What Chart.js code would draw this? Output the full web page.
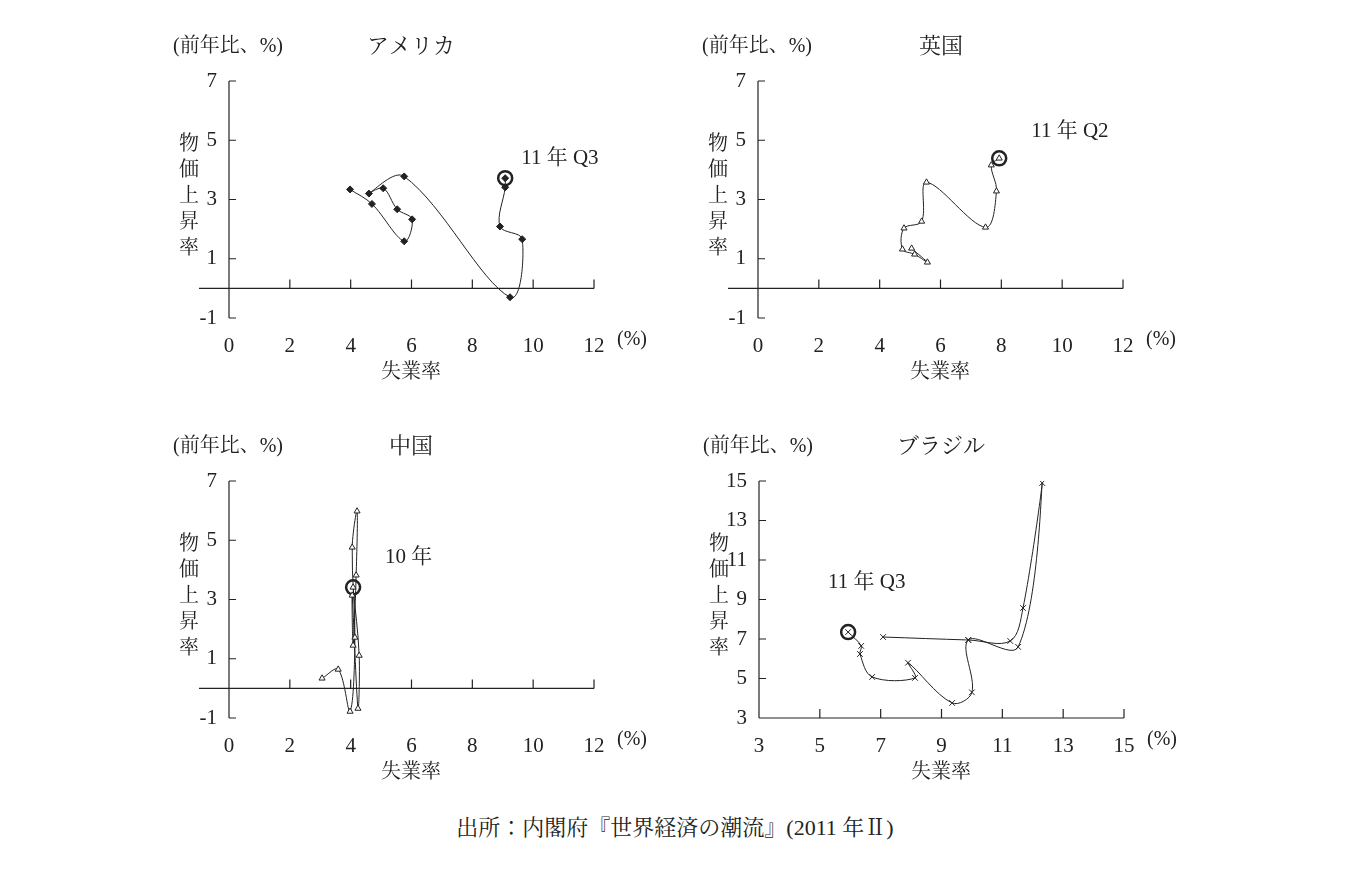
<!DOCTYPE html>
<html><head><meta charset="utf-8">
<script src="https://cdn.jsdelivr.net/npm/chart.js@4"></script>
<style>
body{margin:0;background:#fff;width:1350px;height:870px;position:relative;overflow:hidden}
.box{position:absolute;width:520px;height:370px}
#src{position:absolute;left:0;width:1350px;top:810px;text-align:center;font:22px "Liberation Serif","Noto Serif CJK JP","Noto Sans CJK JP";color:#222}
</style></head><body>
<div class="box" style="left:160px;top:30px"><canvas id="usa"></canvas></div>
<div class="box" style="left:689px;top:30px"><canvas id="uk"></canvas></div>
<div class="box" style="left:160px;top:430px"><canvas id="china"></canvas></div>
<div class="box" style="left:690px;top:430px"><canvas id="brazil"></canvas></div>
<div id="src">出所：内閣府『世界経済の潮流』(2011 年Ⅱ)</div>
<script>
// unemployment (x) and inflation (y), quarterly path
const usaX = [3.98, 4.7, 5.76, 6.02, 5.53, 5.07, 4.6, 5.76, 9.24, 9.64, 8.91, 9.08, 9.08];
const usaY = [3.34, 2.85, 1.59, 2.33, 2.67, 3.38, 3.2, 3.78, -0.3, 1.66, 2.09, 3.41, 3.72];
const ukX = [5.05, 5.57, 5.15, 4.75, 4.8, 5.38, 5.54, 7.48, 7.84, 7.67, 7.93];
const ukY = [1.35, 0.88, 1.15, 1.32, 2.03, 2.26, 3.58, 2.06, 3.28, 4.16, 4.39];
const chinaX = [3.06, 3.59, 3.98, 4.14, 4.05, 4.21, 4.18, 4.08, 4.05, 4.24, 4.28, 4.08];
const chinaY = [0.34, 0.64, -0.78, 1.72, 4.76, 5.98, 3.82, 1.45, 3.14, -0.68, 1.11, 3.41];
const brazilX = [7.08, 9.88, 11.26, 11.68, 12.31, 11.52, 9.88, 10.0, 9.35, 7.9, 8.13, 6.72, 6.32, 6.36, 5.93];
const brazilY = [7.1, 6.95, 6.9, 8.57, 14.9, 6.6, 6.95, 4.3, 3.76, 5.8, 5.03, 5.08, 6.24, 6.65, 7.35];
const stdTicks = [-1, 1, 3, 5, 7];
const stdXTicks = [0, 2, 4, 6, 8, 10, 12];
const brTicks = [3, 5, 7, 9, 11, 13, 15];

const FONT = '"Liberation Serif","Noto Serif CJK JP","Noto Sans CJK JP"';

function pts(xs, ys) { return xs.map((x, i) => ({ x, y: ys[i] })); }

function arrow(ctx, x1, y1, x2, y2) {
  const a = Math.atan2(y2 - y1, x2 - x1);
  ctx.beginPath(); ctx.moveTo(x1, y1); ctx.lineTo(x2 - 8 * Math.cos(a), y2 - 8 * Math.sin(a));
  ctx.lineWidth = 3; ctx.stroke();
  ctx.beginPath(); ctx.moveTo(x2, y2);
  ctx.lineTo(x2 - 13 * Math.cos(a - 0.4), y2 - 13 * Math.sin(a - 0.4));
  ctx.lineTo(x2 - 13 * Math.cos(a + 0.4), y2 - 13 * Math.sin(a + 0.4));
  ctx.closePath(); ctx.fill();
}

function makePanel(id, o) {
  const decor = {
    id: "decor",
    afterDraw(chart) {
      const { ctx, chartArea: ca, scales: { x, y } } = chart;
      ctx.save();
      ctx.strokeStyle = "#222"; ctx.fillStyle = "#222"; ctx.lineWidth = 1.2;
      const baseY = y.getPixelForValue(o.base);
      ctx.beginPath();
      ctx.moveTo(ca.left, ca.top); ctx.lineTo(ca.left, ca.bottom);
      ctx.moveTo(ca.left - (o.base === 0 ? 30 : 0), baseY); ctx.lineTo(ca.right, baseY);
      o.yTicks.forEach(v => { const p = y.getPixelForValue(v); ctx.moveTo(ca.left, p); ctx.lineTo(ca.left + 7, p); });
      o.xTicks.forEach(v => { const p = x.getPixelForValue(v); ctx.moveTo(p, baseY); ctx.lineTo(p, baseY - 9); });
      ctx.stroke();
      ctx.font = "20px " + FONT; ctx.textBaseline = "middle"; ctx.textAlign = "left";
      ctx.fillText("(前年比、%)", ca.left - 56, 17);
      ctx.font = "22px " + FONT; ctx.textAlign = "center";
      ctx.fillText(o.title, ca.left + o.titleDx, 17);
      ctx.font = "20px " + FONT;
      ctx.fillText("(%)", ca.right + 38, ca.bottom + 22);
      ctx.fillText("失業率", ca.left + 182, ca.bottom + 55);
      ["物", "価", "上", "昇", "率"].forEach((c, i) => ctx.fillText(c, ca.left - 40, ca.top + 64 + i * 26));
      // annotation
      const px = x.getPixelForValue(o.mark[0]), py = y.getPixelForValue(o.mark[1]);
      ctx.font = "21px " + FONT; ctx.textAlign = "left";
      ctx.fillText(o.label, px + o.lab[0], py + o.lab[1]);
      arrow(ctx, px + o.arr[0], py + o.arr[1], px + o.arr[2], py + o.arr[3]);
      ctx.restore();
    }
  };
  new Chart(document.getElementById(id), {
    type: "scatter",
    data: {
      datasets: [
        {
          data: pts(o.xs, o.ys), showLine: true, tension: 0.35,
          borderColor: "#222", borderWidth: 1,
          pointStyle: o.style, pointRadius: o.r, pointBorderWidth: 1,
          pointBackgroundColor: o.fill, pointBorderColor: "#222"
        },
        {
          data: [{ x: o.mark[0], y: o.mark[1] }], pointStyle: "circle", pointRadius: 7,
          pointBorderWidth: 2.5, pointBorderColor: "#222", pointBackgroundColor: "rgba(0,0,0,0)"
        }
      ]
    },
    options: {
      responsive: true, maintainAspectRatio: false, animation: false,
      layout: { padding: { top: 51, right: 86, left: 0, bottom: 0 } },
      plugins: { legend: { display: false }, tooltip: { enabled: false } },
      scales: {
        x: {
          min: o.xTicks[0], max: o.xTicks[o.xTicks.length - 1],
          afterBuildTicks: s => { s.ticks = o.xTicks.map(v => ({ value: v })); },
          afterFit: s => { s.height = 82; },
          grid: { display: false }, border: { display: false },
          ticks: { color: "#222", font: { family: FONT, size: 21 }, padding: 8 }
        },
        y: {
          min: o.yTicks[0], max: o.yTicks[o.yTicks.length - 1],
          afterBuildTicks: s => { s.ticks = o.yTicks.map(v => ({ value: v })); },
          afterFit: s => { s.width = 69; },
          grid: { display: false }, border: { display: false },
          ticks: { color: "#222", font: { family: FONT, size: 21 }, padding: 4 }
        }
      }
    },
    plugins: [decor]
  });
}

makePanel("usa", { xs: usaX, ys: usaY, style: "rectRot", r: 3.5, fill: "#222", xTicks: stdXTicks, yTicks: stdTicks, base: 0,
  title: "アメリカ", titleDx: 182, mark: [9.08, 3.72], label: "11 年 Q3", lab: [16, -20], arr: [12, -14], arr2: 0 });
makePanel("uk", { xs: ukX, ys: ukY, style: "triangle", r: 3.5, fill: "#fff", xTicks: stdXTicks, yTicks: stdTicks, base: 0,
  title: "英国", titleDx: 183, mark: [7.93, 4.39], label: "11 年 Q2", lab: [32, -27], arr: [28, -22], arr2: 0 });
makePanel("china", { xs: chinaX, ys: chinaY, style: "triangle", r: 3.5, fill: "#fff", xTicks: stdXTicks, yTicks: stdTicks, base: 0,
  title: "中国", titleDx: 182, mark: [4.08, 3.41], label: "10 年", lab: [32, -30], arr: [28, -22], arr2: 0 });
makePanel("brazil", { xs: brazilX, ys: brazilY, style: "crossRot", r: 4, fill: "#fff", xTicks: brTicks, yTicks: brTicks, base: 3,
  title: "ブラジル", titleDx: 182, mark: [5.93, 7.35], label: "11 年 Q3", lab: [-20, -50], arr: [20, -30], arr2: 0 });

// arrow endpoints: fix so they point at the marker (tail offset, head near circle)
</script>
</body></html>
